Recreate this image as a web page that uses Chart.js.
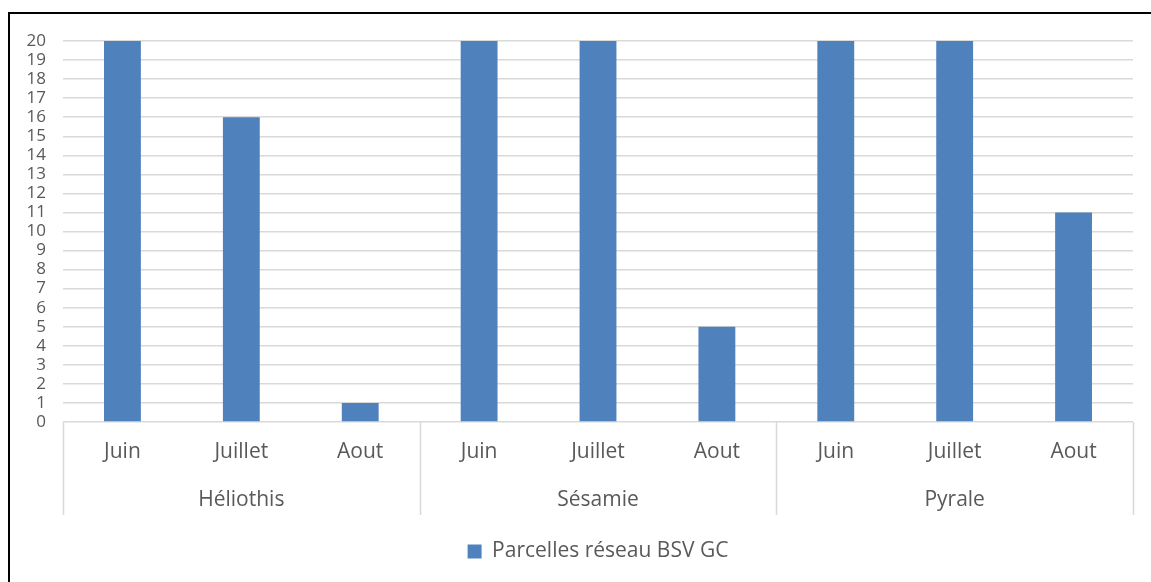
<!DOCTYPE html>
<html lang="fr">
<head>
    <meta charset="UTF-8">
    <title>Parcelles réseau BSV GC</title>
    <style>
        html, body {
            margin: 0;
            padding: 0;
            background: #ffffff;
            overflow: hidden;
        }
        #wrap {
            position: relative;
            width: 1151px;
            height: 582px;
        }
        #frame {
            position: absolute;
            left: 8px;
            top: 12px;
            width: 1400px;
            height: 800px;
            border-top: 2px solid #000;
            border-left: 2px solid #000;
            pointer-events: none;
        }
        canvas {
            position: absolute;
            left: 0;
            top: 0;
        }
    </style>
    <script src="https://cdn.jsdelivr.net/npm/chart.js"></script>
</head>
<body>
<div id="wrap">
    <canvas id="myChart" width="1151" height="582"></canvas>
    <div id="frame"></div>
</div>

<script>
    // data
    const months = ['Juin', 'Juillet', 'Aout', 'Juin', 'Juillet', 'Aout', 'Juin', 'Juillet', 'Aout'];
    const groups = ['Héliothis', 'Sésamie', 'Pyrale'];
    const groupSizes = [3, 3, 3];
    const parcelles = [20, 16, 1, 20, 20, 5, 20, 20, 11];
    const seriesName = 'Parcelles réseau BSV GC';

    const textColor = '#595959';
    const gridColor = '#d9d9d9';
    const fontFamily = '"Open Sans", "Noto Sans", sans-serif';

    // draws the second row of category labels and the group separators
    const groupAxis = {
        id: 'groupAxis',
        afterDraw(chart) {
            const ctx = chart.ctx;
            const x = chart.scales.x;
            const top = chart.chartArea.bottom;
            const bottom = top + 93;
            ctx.save();
            ctx.strokeStyle = gridColor;
            ctx.lineWidth = 1.5;
            ctx.fillStyle = textColor;
            ctx.font = '21px ' + fontFamily;
            ctx.textAlign = 'center';
            ctx.textBaseline = 'middle';

            let start = 0;
            const edges = [x.getPixelForValue(-0.5)];
            groups.forEach((g, i) => {
                const end = start + groupSizes[i];
                edges.push(x.getPixelForValue(end - 0.5));
                const mid = (x.getPixelForValue(start - 0.5) + x.getPixelForValue(end - 0.5)) / 2;
                ctx.fillText(g, mid, top + 78);
                start = end;
            });
            edges.forEach(px => {
                const xx = Math.round(px) + 0.5;
                ctx.beginPath();
                ctx.moveTo(xx, top);
                ctx.lineTo(xx, bottom);
                ctx.stroke();
            });
            ctx.restore();
        }
    };

    const ctx = document.getElementById('myChart').getContext('2d');

    new Chart(ctx, {
        type: 'bar',
        data: {
            labels: months,
            datasets: [{
                label: seriesName,
                data: parcelles,
                backgroundColor: '#4f81bd',
                borderWidth: 0,
                categoryPercentage: 1,
                barPercentage: 0.31
            }]
        },
        options: {
            responsive: false,
            animation: false,
            layout: {
                padding: { left: 0, right: 18, top: 41, bottom: 10 }
            },
            plugins: {
                tooltip: { enabled: false },
                legend: {
                    position: 'bottom',
                    fullSize: false,
                    labels: {
                        color: textColor,
                        font: { family: fontFamily, size: 21 },
                        boxWidth: 14,
                        boxHeight: 14,
                        padding: 8
                    }
                }
            },
            scales: {
                x: {
                    grid: { display: false, drawTicks: false },
                    border: { display: false },
                    ticks: {
                        color: textColor,
                        font: { family: fontFamily, size: 21 },
                        padding: 17,
                        maxRotation: 0,
                        autoSkip: false
                    },
                    afterFit(scale) {
                        scale.height = 111;
                    }
                },
                y: {
                    min: 0,
                    max: 20,
                    grid: {
                        color: gridColor,
                        lineWidth: 1.5,
                        drawTicks: false
                    },
                    border: { display: false },
                    ticks: {
                        stepSize: 1,
                        autoSkip: false,
                        color: textColor,
                        font: { family: fontFamily, size: 17 },
                        padding: 17
                    },
                    afterFit(scale) {
                        scale.width = 63;
                    }
                }
            }
        },
        plugins: [groupAxis]
    });
</script>
</body>
</html>
